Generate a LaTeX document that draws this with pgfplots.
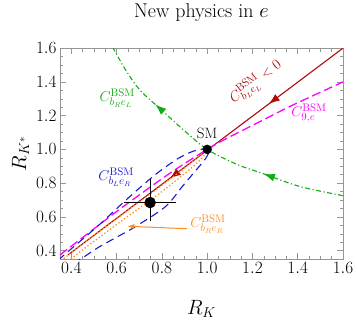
\documentclass[border=0pt]{standalone}
\usepackage{pgfplots}
\pgfplotsset{compat=1.18}
\usetikzlibrary{arrows.meta,decorations.markings}
\definecolor{cred}{RGB}{175,10,10}
\definecolor{cmag}{RGB}{255,0,255}
\definecolor{cgreen}{RGB}{20,170,20}
\definecolor{cblue}{RGB}{25,25,205}
\definecolor{corange}{RGB}{255,140,30}
\definecolor{cframe}{RGB}{150,150,150}
\begin{document}
\begin{tikzpicture}
\path (-60bp,-62bp) rectangle (297bp,257bp);
\begin{axis}[
  at={(0,0)}, anchor=south west,
  scale only axis, width=283bp, height=211bp,
  xmin=0.35, xmax=1.6, ymin=0.35, ymax=1.6,
  xtick={0.4,0.6,0.8,1.0,1.2,1.4,1.6},
  ytick={0.4,0.6,0.8,1.0,1.2,1.4,1.6},
  minor tick num=3,
  tick align=inside,
  major tick length=6bp, minor tick length=3.5bp,
  axis line style={cframe}, tick style={cframe, line width=0.5pt},
  xticklabel style={/pgf/number format/.cd, fixed, fixed zerofill, precision=1},
  yticklabel style={/pgf/number format/.cd, fixed, fixed zerofill, precision=1},
  tick label style={font=\fontsize{17}{17}\selectfont, black},
  clip mode=individual,
  title={New physics in $e$},
  title style={font=\fontsize{20}{20}\selectfont, at={(0.5,1)}, anchor=base, yshift=25bp},
  xlabel={$R_K$},
  xlabel style={font=\fontsize{20}{20}\selectfont, at={(0.5,0)}, anchor=north, yshift=-41bp, inner sep=0pt},
  ylabel={$R_{K^*}$},
  ylabel style={font=\fontsize{21}{21}\selectfont},
]
% C_bLeL < 0 (dark red)
\addplot[cred, line width=1.1pt, postaction={decorate},
  decoration={markings,
    mark=at position 0.27 with {\arrow{Latex[length=11bp,width=8bp]}},
    mark=at position 0.63 with {\arrow{Latex[length=11bp,width=8bp]}}}]
  coordinates {(1.6,1.6) (0.385,0.375)};
% C9e (magenta)
\addplot[cmag, line width=1.3pt, dash pattern=on 9bp off 4bp, smooth]
  coordinates {(0.35,0.375) (0.45,0.478) (0.6,0.632) (0.8,0.826) (0.9,0.916) (1,1) (1.079,1.06) (1.226,1.16) (1.374,1.26) (1.6,1.40)};
% C_bReL (green)
\addplot[cgreen, line width=1.1pt, dash pattern=on 5bp off 2.5bp on 1.2bp off 2.5bp, smooth, postaction={decorate},
  decoration={markings,
    mark=at position 0.29 with {\arrow[solid]{Latex[length=11bp,width=8bp]}},
    mark=at position 0.75 with {\arrow[solid]{Latex[length=11bp,width=8bp]}}}]
  coordinates {(1.6,0.726) (1.41,0.78) (1.24,0.86) (1.132,0.911) (1,1) (0.9,1.11) (0.793,1.24) (0.704,1.35) (0.64,1.47) (0.585,1.6)};
% C_bLeR (blue loop)
\addplot[cblue, line width=1.1pt, dash pattern=on 8bp off 5bp, smooth]
  coordinates {(0.30,0.29) (0.36,0.365) (0.46,0.48) (0.537,0.57) (0.625,0.68) (0.70,0.77) (0.78,0.86) (0.87,0.945) (0.94,0.99) (1.0,1.005) (1.01,0.99) (0.99,0.94) (0.94,0.86) (0.89,0.78) (0.815,0.66) (0.68,0.54) (0.6,0.48) (0.52,0.42) (0.44,0.35) (0.36,0.29) (0.30,0.25)};
% C_bReR (orange loop)
\addplot[corange, line width=1.3pt, dash pattern=on 1.3bp off 2.2bp, smooth]
  coordinates {(0.33,0.315) (0.45,0.44) (0.6,0.59) (0.8,0.787) (0.92,0.91) (0.98,0.975) (1.0,0.995) (0.985,0.96) (0.93,0.89) (0.8,0.75) (0.6,0.555) (0.45,0.405) (0.36,0.31) (0.33,0.28)};
% orange label arrow
\addplot[corange, line width=1pt, -{Latex[length=7bp,width=5bp]}]
  coordinates {(0.91,0.53) (0.647,0.545)};
% SM point
\addplot[only marks, mark=*, mark size=4.5bp, black] coordinates {(1,1)};
% measurement
\addplot[black, only marks, mark=*, mark size=5.5bp,
  error bars/.cd, x dir=both, x explicit, y dir=both, y explicit,
  error bar style={line width=1.1pt},
  error mark options={line width=1.1pt, mark size=3.5bp}]
  coordinates {(0.748,0.685) += (0.098,0.12) -= (0.098,0.09)};
% labels
\node[cred, rotate=38, font=\fontsize{15}{15}\selectfont] at (axis cs:1.215,1.40) {$C^{\mathrm{BSM}}_{b_L e_L} < 0$};
\node[cmag, font=\fontsize{15}{15}\selectfont] at (axis cs:1.45,1.215) {$C^{\mathrm{BSM}}_{9,e}$};
\node[cgreen, font=\fontsize{15}{15}\selectfont] at (axis cs:0.603,1.305) {$C^{\mathrm{BSM}}_{b_R e_L}$};
\node[cblue, font=\fontsize{15}{15}\selectfont] at (axis cs:0.598,0.834) {$C^{\mathrm{BSM}}_{b_L e_R}$};
\node[corange, font=\fontsize{15}{15}\selectfont] at (axis cs:1.004,0.557) {$C^{\mathrm{BSM}}_{b_R e_R}$};
\node[font=\fontsize{15}{15}\selectfont] at (axis cs:1.0,1.094) {SM};
\end{axis}
\end{tikzpicture}
\end{document}
